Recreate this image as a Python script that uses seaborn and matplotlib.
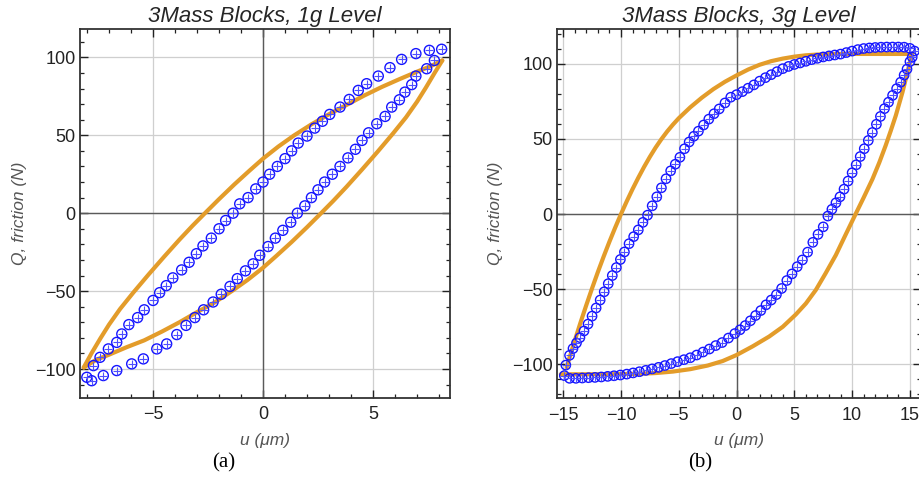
import numpy as np
import pandas as pd
import matplotlib
matplotlib.use("Agg")
import matplotlib.pyplot as plt
from matplotlib.ticker import MultipleLocator
import seaborn as sns

# ── Data ─────────────────────────────────────────────────────────────────────

# (a) 1g level, model loop (orange)
a_fit_up_x = [-8.15, -7.8, -7.4, -7.0, -6.5, -5.9, -5.2, -4.5, -3.8, -3.2, -2.64, -2.0,
              -1.3, -0.6, 0.0, 0.7, 1.4, 2.2, 3.0, 3.8, 4.6, 5.4, 6.2, 7.0, 7.6, 8.15]
a_fit_up_y = [-99, -90, -80.5, -71.5, -61.5, -51, -39.3, -28, -17, -8, 0, 9,
              18.5, 27.5, 35, 42.8, 49.8, 57, 63.5, 69.5, 75.5, 81, 86, 90.8, 94.2, 98]
a_fit_dn_x = [-8.15, -7.6, -7.0, -6.2, -5.4, -4.6, -3.8, -3.0, -2.2, -1.4, -0.7, 0.0,
              0.6, 1.3, 2.0, 2.64, 3.2, 3.8, 4.5, 5.2, 5.9, 6.5, 7.0, 7.4, 7.8, 8.15]
a_fit_dn_y = [-99, -94.2, -90.8, -86, -81.6, -76, -70, -63.5, -57.3, -49.8, -42.8, -35,
              -27.5, -18.5, -9, 0, 8, 17, 28, 39.3, 51, 61.5, 71.5, 80.5, 90, 98]

# (a) 1g level, measured (blue)
a_exp_up_x = [-7.71, -7.41, -7.03, -6.65, -6.42, -6.1, -5.7, -5.4, -5.0, -4.7, -4.4, -4.1,
              -3.7, -3.36, -3.03, -2.73, -2.35, -2.0, -1.7, -1.36, -1.06, -0.68, -0.33, 0.0,
              0.3, 0.65, 1.0, 1.3, 1.6, 2.0, 2.35, 2.7, 3.03, 3.5, 3.92, 4.33, 4.71, 5.24,
              5.77, 6.3, 6.95, 7.56, 8.12]
a_exp_up_y = [-97.8, -92.5, -87.1, -82.9, -77.5, -71.5, -67, -62, -56, -51, -46.5, -41.5,
              -36.4, -31.5, -26, -21, -16, -10, -4.7, 0, 6, 10, 15.6, 20,
              25, 30, 35, 40, 45, 49.5, 54.6, 59, 63.4, 68.1, 73, 78.8, 83.1, 88,
              93.4, 98.7, 102.4, 104.5, 105.2]
a_exp_dn_x = [7.79, 7.44, 6.95, 6.76, 6.45, 6.2, 5.85, 5.55, 5.17, 4.8, 4.5, 4.2,
              3.86, 3.5, 3.15, 2.8, 2.5, 2.2, 1.9, 1.56, 1.26, 0.9, 0.56, 0.23,
              -0.15, -0.45, -0.8, -1.17, -1.5, -1.9, -2.27, -2.7, -3.1, -3.5, -3.92, -4.38,
              -4.83, -5.44, -5.97, -6.65, -7.26, -7.79, -8.01]
a_exp_dn_y = [98, 92.7, 88, 82.5, 77.7, 72.8, 68.1, 62.1, 57.4, 51.6, 46.7, 41,
              35.5, 30, 25, 20, 15, 10, 4.7, 0, -5.8, -11, -16, -21.4,
              -27, -32.5, -37, -42, -47, -52, -57, -62, -67, -72, -77.9, -83.9,
              -87.1, -93.5, -96.7, -101, -104.2, -107.5, -105.3]

# (b) 3g level, model loop (orange)
b_fit_up_x = [-14.7, -14.5, -14.0, -13.5, -13.0, -12.5, -12.0, -11.5, -11.0, -10.5, -10.0,
              -9.5, -9.0, -8.5, -8.0, -7.5, -7.0, -6.5, -6.0, -5.5, -5.0, -4.0, -3.0,
              -2.0, -1.0, 0.0, 1.0, 2.0, 3.0, 4.0, 5.0, 6.0, 7.0, 8.0, 9.0, 12.0, 15.2]
b_fit_up_y = [-101.9, -96.8, -84.3, -72.2, -60.6, -49.4, -38.6, -28.3, -18.4, -9.0, 0,
              8.5, 16.6, 24.2, 31.4, 38.1, 44.3, 49.9, 55, 59.6, 63.8, 71.1, 77.5,
              83.2, 88.1, 92.3, 96.2, 99.4, 101.8, 103.5, 104.8, 105.7, 106.2, 106.5, 106.6,
              106.6, 106.6]
b_fit_dn_x = [-15.2, -12.0, -10.0, -8.5, -7.0, -5.5, -4.0, -2.5, -1.2, 0.0, 1.4, 2.82,
              4.0, 5.13, 6.0, 6.86, 7.7, 8.59, 9.45, 10.3, 11.0, 11.76, 12.35, 12.9,
              13.35, 13.78, 14.36, 14.93, 15.2]
b_fit_dn_y = [-106.6, -106.6, -106.5, -106.3, -105.8, -104.8, -103.2, -100.8, -97.8, -93.8,
              -88.0, -81.5, -75.0, -66.8, -59.5, -50.5, -39.5, -27.3, -13.5, 0, 11.0,
              23.3, 34.3, 45.6, 55.6, 65.6, 81.2, 98.9, 106.6]

# (b) 3g level, measured (blue)
b_exp_up_x = [-14.77, -14.45, -14.15, -13.85, -13.55, -13.2, -12.85, -12.5, -12.15, -11.8,
              -11.45, -11.1, -10.75, -10.4, -10.05, -9.7, -9.3, -8.9, -8.5, -8.1, -7.7,
              -7.3, -6.9, -6.5, -6.1, -5.7, -5.3, -4.9, -4.5, -4.1, -3.7, -3.3, -2.85,
              -2.4, -1.95, -1.5, -1.0, -0.5, 0.0, 0.5, 1.0, 1.5, 2.0, 2.5, 3.0, 3.5, 4.0,
              4.5, 5.0, 5.5, 6.0, 6.5, 7.0, 7.5, 8.0, 8.5, 9.0, 9.5, 10.0, 10.5, 11.0,
              11.5, 12.0, 12.5, 13.0, 13.5, 14.0, 14.5, 15.0, 15.4]
b_exp_up_y = [-100.5, -94.0, -89.5, -85.8, -82.2, -77.8, -73.2, -67.9, -62.5, -57.2,
              -51.7, -46.3, -40.9, -35.6, -30.2, -25.2, -19.7, -15.0, -10.5, -5.5, -0.7,
              5.5, 11.5, 17.5, 23.5, 28.8, 33.2, 37.8, 43.5, 48.0, 51.8, 55.2, 59.3,
              63.2, 66.8, 70.0, 74.0, 77.8, 79.5, 81.5, 83.8, 86.0, 88.5, 90.8, 92.8, 94.8, 96.8,
              98.3, 99.6, 100.6, 101.7, 102.8, 103.7, 104.6, 105.3, 105.9, 106.5, 107.5, 108.5,
              109.5, 110.2, 110.6, 110.9, 111.1, 111.2, 111.2, 111.2, 111.1, 110.3, 108.5]
b_exp_dn_x = [15.2, 15.0, 14.75, 14.5, 14.2, 13.85, 13.5, 13.15, 12.8, 12.45, 12.1, 11.75,
              11.4, 11.05, 10.7, 10.35, 10.0, 9.65, 9.3, 8.95, 8.6, 8.25, 7.9,
              7.5, 7.05, 6.6, 6.15, 5.7, 5.25, 4.8, 4.35, 3.9, 3.45, 3.0, 2.55, 2.1, 1.65,
              1.2, 0.75, 0.3, -0.15, -0.7, -1.25, -1.8, -2.35, -2.9, -3.45, -4.0, -4.55,
              -5.1, -5.65, -6.2, -6.75, -7.3, -7.85, -8.4, -8.95, -9.5, -10.05, -10.6,
              -11.15, -11.7, -12.25, -12.8, -13.35, -13.9, -14.45, -14.9]
b_exp_dn_y = [104.5, 101.5, 96.5, 92.5, 87.8, 83.5, 79.0, 74.5, 70.2, 65.0, 59.8, 54.3,
              49.0, 43.5, 38.3, 32.8, 27.5, 22.0, 16.6, 11.5, 7.5, 3.2, -1.3,
              -8.5, -13.5, -18.8, -25.3, -30.5, -35.0, -39.8, -44.2, -49.5, -53.6, -57.2,
              -60.4, -64.2, -67.5, -71.0, -74.2, -77.0, -79.5, -82.5, -85.5, -87.5, -89.8,
              -91.8, -93.8, -95.6, -96.9, -98.2, -99.5, -100.8, -102.0, -103.0, -104.0,
              -104.9, -105.7, -106.5, -107.1, -107.6, -108.0, -108.4, -108.7, -108.9,
              -109.1, -109.3, -109.3, -107.5]

TITLES = ["3Mass Blocks, 1g Level", "3Mass Blocks, 3g Level"]
TAGS = ["(a)", "(b)"]

# ── Style ────────────────────────────────────────────────────────────────────

ORANGE = "#E39C2A"
BLUE = "#1414FF"
CROSS = "#5050FF"
LABEL_GRAY = "#555555"

sns.set_theme(style="white")
plt.rcParams.update({
    "font.family": ["Liberation Sans", "DejaVu Sans"],
    "axes.edgecolor": "#333333",
    "axes.linewidth": 1.3,
    "xtick.direction": "in",
    "ytick.direction": "in",
    "xtick.color": "#222222",
    "ytick.color": "#222222",
})

W, H = 919, 479
fig = plt.figure(figsize=(W / 100, H / 100), dpi=100)


def px_axes(left, top, right, bottom):
    return fig.add_axes([left / W, 1 - bottom / H, (right - left) / W, (bottom - top) / H])


def draw_panel(ax, fit_up, fit_dn, exp_up, exp_dn, xlim, ylim, marker_s, title, ylab_x):
    # light grid and zero axes, Mathematica look
    ax.set_axisbelow(True)
    ax.grid(True, which="major", color="#cfcfcf", lw=0.9)
    ax.axhline(0, color="#5a5a5a", lw=1.0, zorder=1)
    ax.axvline(0, color="#5a5a5a", lw=1.0, zorder=1)

    for xs, ys in (fit_up, fit_dn):
        df = pd.DataFrame({"u": xs, "Q": ys})
        sns.lineplot(data=df, x="u", y="Q", sort=False, estimator=None, ax=ax,
                     color=ORANGE, lw=3.0, zorder=2, solid_capstyle="round",
                     solid_joinstyle="round")

    for xs, ys in (exp_up, exp_dn):
        df = pd.DataFrame({"u": xs, "Q": ys})
        sns.scatterplot(data=df, x="u", y="Q", ax=ax, marker="o", s=marker_s,
                        facecolors="none", edgecolor=BLUE, linewidth=1.0, zorder=3)
        sns.scatterplot(data=df, x="u", y="Q", ax=ax, marker="+", s=marker_s * 0.75,
                        color=CROSS, linewidth=0.8, zorder=3)

    ax.set_xlim(*xlim)
    ax.set_ylim(*ylim)
    ax.xaxis.set_major_locator(MultipleLocator(5))
    ax.xaxis.set_minor_locator(MultipleLocator(1))
    ax.yaxis.set_major_locator(MultipleLocator(50))
    ax.yaxis.set_minor_locator(MultipleLocator(10))
    ax.tick_params(which="both", bottom=True, left=True, top=True, right=True,
                   labelsize=13)
    ax.tick_params(which="major", length=5.5, width=1.0)
    ax.tick_params(which="minor", length=3.0, width=0.9)
    ax.tick_params(axis="x", pad=6)
    ax.tick_params(axis="y", pad=3)

    ax.set_title(title, fontsize=16, fontstyle="italic", pad=5)
    ax.set_xlabel("u (μm)", fontsize=12.5, fontstyle="italic", color=LABEL_GRAY)
    ax.set_ylabel("Q, friction (N)", fontsize=12.5, fontstyle="italic", color=LABEL_GRAY)
    ax.xaxis.set_label_coords(0.5, -0.095)
    ax.yaxis.set_label_coords(ylab_x, 0.5)


ax_a = px_axes(80, 29, 450, 398)
draw_panel(ax_a, (a_fit_up_x, a_fit_up_y), (a_fit_dn_x, a_fit_dn_y),
           (a_exp_up_x, a_exp_up_y), (a_exp_dn_x, a_exp_dn_y),
           (-8.32, 8.5), (-118.6, 118.2), 52, TITLES[0], -0.143)

ax_b = px_axes(556.7, 29.3, 921, 398.3)
draw_panel(ax_b, (b_fit_up_x, b_fit_up_y), (b_fit_dn_x, b_fit_dn_y),
           (b_exp_up_x, b_exp_up_y), (b_exp_dn_x, b_exp_dn_y),
           (-15.56, 15.96), (-122.6, 123.0), 45, TITLES[1], -0.147)

for tag, x in zip(TAGS, [224, 700]):
    fig.text(x / W, 1 - 463 / H, tag, ha="center", va="center", fontsize=15,
             family=["Liberation Serif", "DejaVu Serif"], color="black")

fig.savefig("out.png", dpi=100, facecolor="white")
